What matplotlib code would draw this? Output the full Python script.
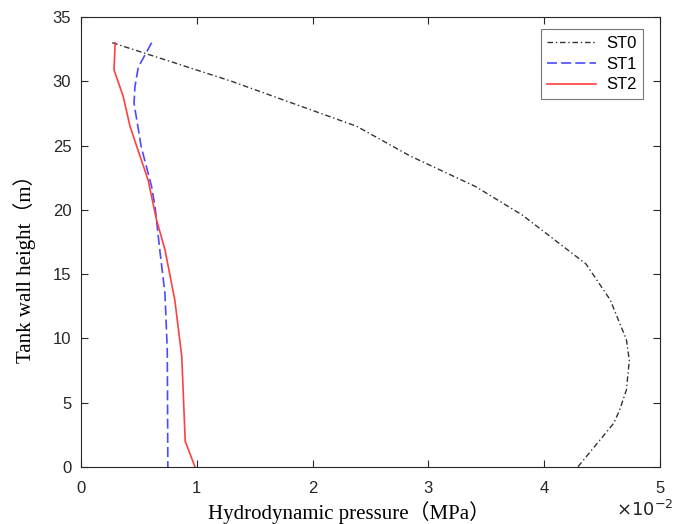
import matplotlib
matplotlib.use("Agg")
import matplotlib.pyplot as plt

# Data (pressure in units of 1e-2 MPa, height in m)
st0_p = [0.27, 1.30, 2.38, 2.84, 3.41, 3.81, 4.36, 4.57, 4.71, 4.735, 4.71, 4.65, 4.60, 4.29]
st0_h = [33.0, 30.0, 26.5, 24.2, 21.8, 19.6, 15.8, 13.0, 9.9, 8.3, 6.0, 4.4, 3.4, 0.0]

st1_p = [0.61, 0.495, 0.466, 0.458, 0.52, 0.61, 0.64, 0.68, 0.725, 0.745, 0.75]
st1_h = [33.0, 31.1, 29.6, 28.3, 24.9, 21.8, 20.2, 16.9, 13.5, 9.1, 0.0]

st2_p = [0.295, 0.285, 0.365, 0.423, 0.58, 0.65, 0.725, 0.81, 0.87, 0.90, 0.985]
st2_h = [33.0, 30.9, 28.8, 26.5, 22.3, 19.3, 16.9, 13.0, 8.6, 2.0, 0.0]

labels = ["ST0", "ST1", "ST2"]
xticks = [0, 1, 2, 3, 4, 5]
yticks = [0, 5, 10, 15, 20, 25, 30, 35]

fig = plt.figure(figsize=(6.88, 5.24), dpi=100)
ax = fig.add_axes([81/688, 57/524, 579/688, 450/524])

ax.plot(st0_p, st0_h, color="#333333", lw=1.0, linestyle=(0, (4, 2, 1, 2)), label=labels[0])
ax.plot(st1_p, st1_h, color="#4a4aff", lw=1.2, linestyle=(0, (6, 2.5)), label=labels[1])
ax.plot(st2_p, st2_h, color="#ff4040", lw=1.2, linestyle="-", label=labels[2])

ax.set_xlim(0, 5)
ax.set_ylim(0, 35)
ax.set_xticks(xticks)
ax.set_yticks(yticks)
ax.tick_params(direction="in", top=True, right=True, length=5, width=0.8,
               labelsize=12, colors="#262626")
ax.tick_params(axis="x", pad=10)
ax.tick_params(axis="y", pad=7)
for lab in ax.get_xticklabels() + ax.get_yticklabels():
    lab.set_family("Liberation Sans")
for s in ax.spines.values():
    s.set_color("#262626")
    s.set_linewidth(0.8)

lab_font = ["Liberation Serif", "Noto Sans CJK SC"]
ax.set_xlabel("Hydrodynamic pressure（MPa）", family=lab_font, fontsize=15)
ax.set_ylabel("Tank wall height（m）", family=lab_font, fontsize=15)
ax.xaxis.set_label_coords(0.463, -0.0756)
ax.yaxis.set_label_coords(-0.0777, 0.452)

fig.text(645/688, (524 - 510)/524, r"$\times 10^{-2}$", ha="center", va="center",
         fontsize=13, family="Liberation Serif", color="#262626")

leg = ax.legend(loc="upper right", bbox_to_anchor=(0.9706, 0.973), frameon=True, fancybox=False,
                edgecolor="#555555", handlelength=2.9, borderpad=0.4,
                labelspacing=0.35, handletextpad=0.6, borderaxespad=0.0,
                prop={"family": "Liberation Sans", "size": 12})
leg.get_frame().set_linewidth(0.8)

fig.savefig("out.png", dpi=100)
